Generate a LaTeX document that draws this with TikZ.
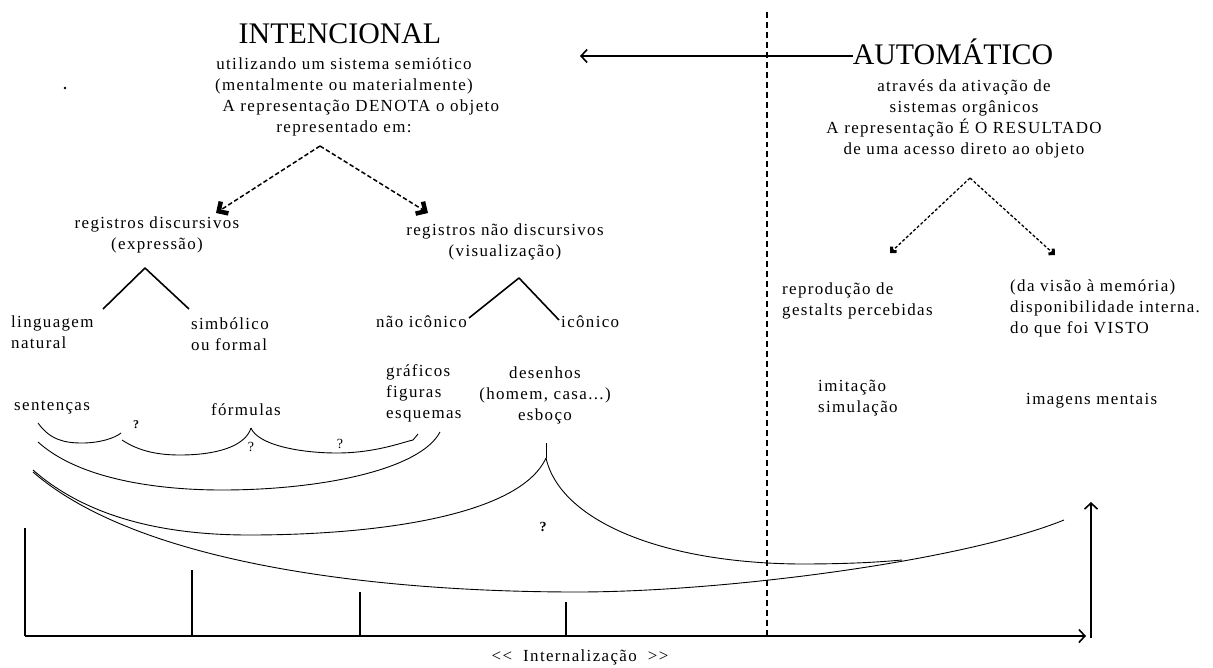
\documentclass[tikz,border=0pt]{standalone}
\usepackage{fontspec}
\setmainfont{Liberation Serif}[LetterSpace=8]
\newfontfamily\titlefont{Liberation Serif}
\usepackage{tikz}
\usetikzlibrary{arrows,arrows.meta,positioning}

\tikzset{
  txt/.style={inner sep=0pt,align=center,font=\fontsize{17}{21}\selectfont},
  txtl/.style={txt,align=left,anchor=west},
  ttl/.style={inner sep=0pt,anchor=base,font=\titlefont\fontsize{30}{32}\selectfont},
  qmark/.style={inner sep=0pt,font=\fontsize{14}{15}\selectfont},
  arc/.style={line width=0.9pt},
  tree/.style={line width=1.6pt},
  chev/.style={-{Straight Barb[length=6pt,width=13pt,line width=1.6pt]}},
  bigdash/.style={dashed,dash pattern=on 4.5pt off 2.5pt,line width=1.5pt,
    -{Straight Barb[angle=90:10pt,line width=4.5pt]}},
  smalldash/.style={dashed,dash pattern=on 3pt off 2pt,line width=1.3pt,
    -{Straight Barb[angle=90:5pt,line width=3pt]}},
}

\begin{document}
\begin{tikzpicture}[>=to,line join=bevel]
\useasboundingbox (0bp,0bp) rectangle (1213bp,-668bp);
%%
\node (intenc) at (340bp,-43bp) [ttl] {INTENCIONAL};
\node (semiot) at (344bp,-97bp) [txt] {utilizando um sistema semiótico\\(mentalmente ou materialmente)\\\hspace*{34pt}A representação DENOTA o objeto\\representado em:};
\node (ponto) at (65bp,-88bp) [circle,fill,inner sep=0pt,minimum size=2.8bp] {};
\node (autom) at (953bp,-64bp) [ttl] {AUTOMÁTICO};
\node (organ) at (964bp,-119bp) [txt] {através da ativação de\\sistemas orgânicos\\A representação É O RESULTADO\\de uma acesso direto ao objeto};
%
\coordinate (seta) at (580bp,-56bp);
\draw [line width=1.8pt,chev] (autom.west |- seta) -- (seta);
\coordinate (corte) at (767bp,-12bp);
\coordinate (corteb) at (767bp,-636bp);
\draw [dashed,dash pattern=on 6pt off 4pt,line width=2pt] (corte) -- (corteb);
%%
\coordinate (topo) at (320bp,-146bp);
\node (disc) at (157bp,-235bp) [txt] {registros discursivos\\(expressão)};
\node (ndisc) at (505bp,-242bp) [txt] {registros não discursivos\\(visualização)};
\draw [bigdash] (topo) -- (216bp,-213bp);
\draw [bigdash] (topo) -- (428bp,-213bp);
%
\coordinate (ta) at (145bp,-268bp);
\node (ling) at (11bp,-332bp) [txtl] {linguagem\\natural};
\node (simb) at (191bp,-334bp) [txtl] {simbólico\\ou formal};
\draw [tree] (103bp,-309bp) -- (ta) -- (189bp,-309bp);
\coordinate (tb) at (519bp,-278bp);
\node (nicon) at (467bp,-322bp) [txt,anchor=east] {não icônico};
\node (icon) at (561bp,-322bp) [txt,anchor=west] {icônico};
\draw [tree] (469bp,-318bp) -- (tb) -- (559bp,-320bp);
%%
\coordinate (topo2) at (970bp,-178bp);
\draw [smalldash] (topo2) -- (890bp,-253bp);
\draw [smalldash] (topo2) -- (1055bp,-255bp);
\node (repr) at (782bp,-301bp) [txtl] {reprodução de\\gestalts percebidas};
\node (visao) at (1010bp,-308bp) [txtl] {(da visão à memória)\\disponibilidade interna.\\do que foi VISTO};
\node (imit) at (818bp,-398bp) [txtl] {imitação\\simulação};
\node (imag) at (1026bp,-401bp) [txtl] {imagens mentais};
%%
\node (sent) at (14bp,-408bp) [txtl] {sentenças};
\node (form) at (246bp,-410bp) [txt] {fórmulas};
\node (graf) at (386bp,-393bp) [txtl] {gráficos\\figuras\\esquemas};
\node (des) at (545bp,-395bp) [txt] {desenhos\\(homem, casa...)\\esboço};
\node (q1) at (136bp,-425bp) [qmark] {\bfseries\large ?};
\node (q2) at (251bp,-447bp) [qmark] {?};
\node (q3) at (340bp,-444bp) [qmark] {?};
\node (q4) at (543bp,-527bp) [qmark] {\bfseries ?};
%
\coordinate (c1) at (251bp,-428bp);
\coordinate (c2) at (546bp,-458bp);
\draw [arc] (38bp,-423bp) .. controls (50bp,-440bp) and (65bp,-443bp) .. (82bp,-443bp)
  .. controls (100bp,-443bp) and (115bp,-438bp) .. (121bp,-433bp);
\draw [arc] (122bp,-440bp) .. controls (140bp,-452bp) and (160bp,-455bp) .. (180bp,-455bp)
  .. controls (215bp,-455bp) and (245bp,-447bp) .. (c1);
\draw [arc] (c1) .. controls (258bp,-445bp) and (300bp,-453bp) .. (337bp,-453bp)
  .. controls (370bp,-453bp) and (395bp,-445bp) .. (409bp,-441bp) -- (413bp,-440bp) -- (418bp,-434bp);
\draw [arc] (38bp,-442bp) .. controls (80bp,-480bp) and (160bp,-490bp) .. (222bp,-490bp)
  .. controls (320bp,-490bp) and (420bp,-470bp) .. (440bp,-432bp);
\draw [arc] (33bp,-470bp) .. controls (90bp,-520bp) and (170bp,-535bp) .. (249bp,-535bp)
  .. controls (380bp,-535bp) and (520bp,-515bp) .. (c2);
\draw [arc] (c2) -- (546bp,-443bp);
\draw [arc] (c2) .. controls (560bp,-520bp) and (660bp,-563bp) .. (800bp,-564bp)
  .. controls (850bp,-564bp) and (880bp,-562bp) .. (902bp,-560bp);
\draw [arc] (33bp,-472bp) .. controls (140bp,-565bp) and (380bp,-592bp) .. (577bp,-592bp)
  .. controls (720bp,-592bp) and (960bp,-562bp) .. (1064bp,-520bp);
%%
\coordinate (orig) at (25bp,-636bp);
\coordinate (fim) at (1086bp,-636bp);
\draw [line width=2.5pt,chev] (orig) -- (fim);
\draw [line width=2pt] (orig) -- (25bp,-528bp);
\draw [line width=2pt] (192bp,-636bp) -- (192bp,-570bp);
\draw [line width=2pt] (360bp,-636bp) -- (360bp,-592bp);
\draw [line width=2pt] (566bp,-636bp) -- (566bp,-602bp);
\coordinate (alto) at (1091bp,-502bp);
\draw [line width=2pt,chev] (1091bp,-638bp) -- (alto);
\node (intern) at (580bp,-657bp) [txt] {{<}{<}\ \ Internalização\ \ {>}{>}};
%
\end{tikzpicture}
\end{document}
